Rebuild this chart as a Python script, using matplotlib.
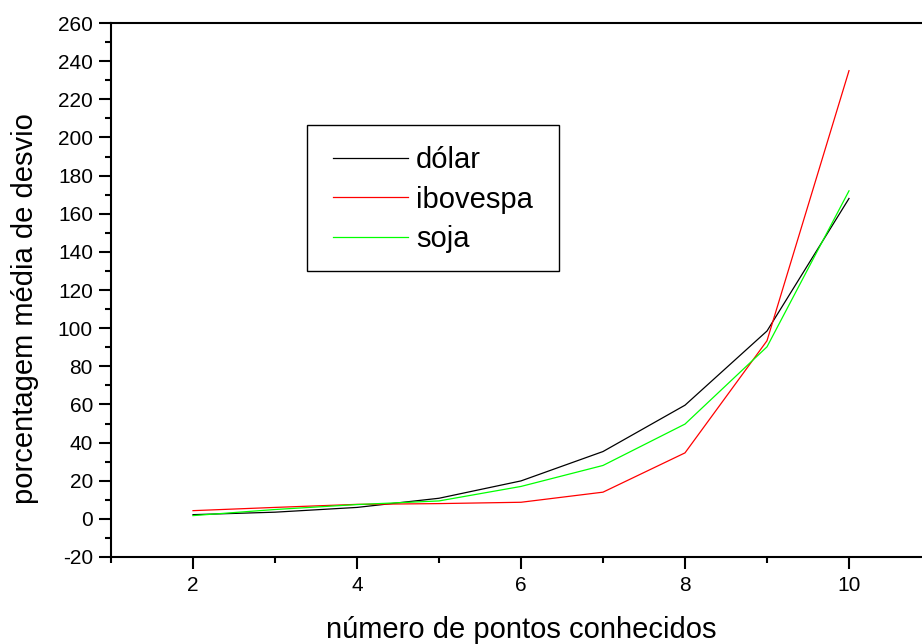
import matplotlib
matplotlib.use('Agg')
import matplotlib.pyplot as plt
from matplotlib.ticker import MultipleLocator
from matplotlib.patches import Rectangle

plt.rcParams['font.family'] = ['Liberation Sans', 'DejaVu Sans']
plt.rcParams['axes.unicode_minus'] = False

# dados
pontos = [2, 3, 4, 5, 6, 7, 8, 9, 10]
dolar = [2.2, 3.5, 6.0, 10.8, 19.9, 35.3, 59.6, 98.5, 168]
ibovespa = [4.3, 6.0, 7.6, 8.0, 8.7, 14.0, 34.6, 93.4, 235]
soja = [1.7, 4.9, 7.5, 9.4, 17.0, 28.0, 49.7, 90.2, 172]

fig = plt.figure(figsize=(9.22, 6.44), dpi=100)
ax = fig.add_axes([111 / 922, 87 / 644, 820 / 922, 534 / 644])

ax.plot(pontos, dolar, color='black', linewidth=0.9, label='dólar')
ax.plot(pontos, ibovespa, color='#ff0000', linewidth=0.9, label='ibovespa')
ax.plot(pontos, soja, color='#00ff00', linewidth=0.9, label='soja')

ax.set_xlim(1, 11)
ax.set_ylim(-20, 260)
ax.xaxis.set_major_locator(MultipleLocator(2))
ax.xaxis.set_minor_locator(MultipleLocator(1))
ax.yaxis.set_major_locator(MultipleLocator(20))
ax.yaxis.set_minor_locator(MultipleLocator(10))

for s in ax.spines.values():
    s.set_linewidth(1.5)
ax.tick_params(which='major', direction='out', length=8.5, width=1.5, labelsize=15, pad=4.5)
ax.tick_params(which='minor', direction='out', length=4.3, width=1.5)
ax.tick_params(axis='x', pad=5)

ax.set_xlabel('número de pontos conhecidos', fontsize=21)
ax.set_ylabel('porcentagem média de desvio', fontsize=21)
ax.xaxis.set_label_coords(0.5, -0.11)
ax.yaxis.set_label_coords(-0.088, 0.465)

# caixa da legenda desenhada à parte
fig.patches.append(Rectangle((307 / 922, 1 - 271 / 644), 252 / 922, 146 / 644,
                             transform=fig.transFigure, fill=False,
                             edgecolor='black', linewidth=1.0))
leg = ax.legend(loc='upper left', bbox_to_anchor=(333 / 922, 1 - 146 / 644),
                bbox_transform=fig.transFigure, borderaxespad=0, borderpad=0,
                fontsize=21, frameon=False,
                handlelength=2.57, handletextpad=0.27, labelspacing=0.40)

plt.savefig('out.png', dpi=100)
